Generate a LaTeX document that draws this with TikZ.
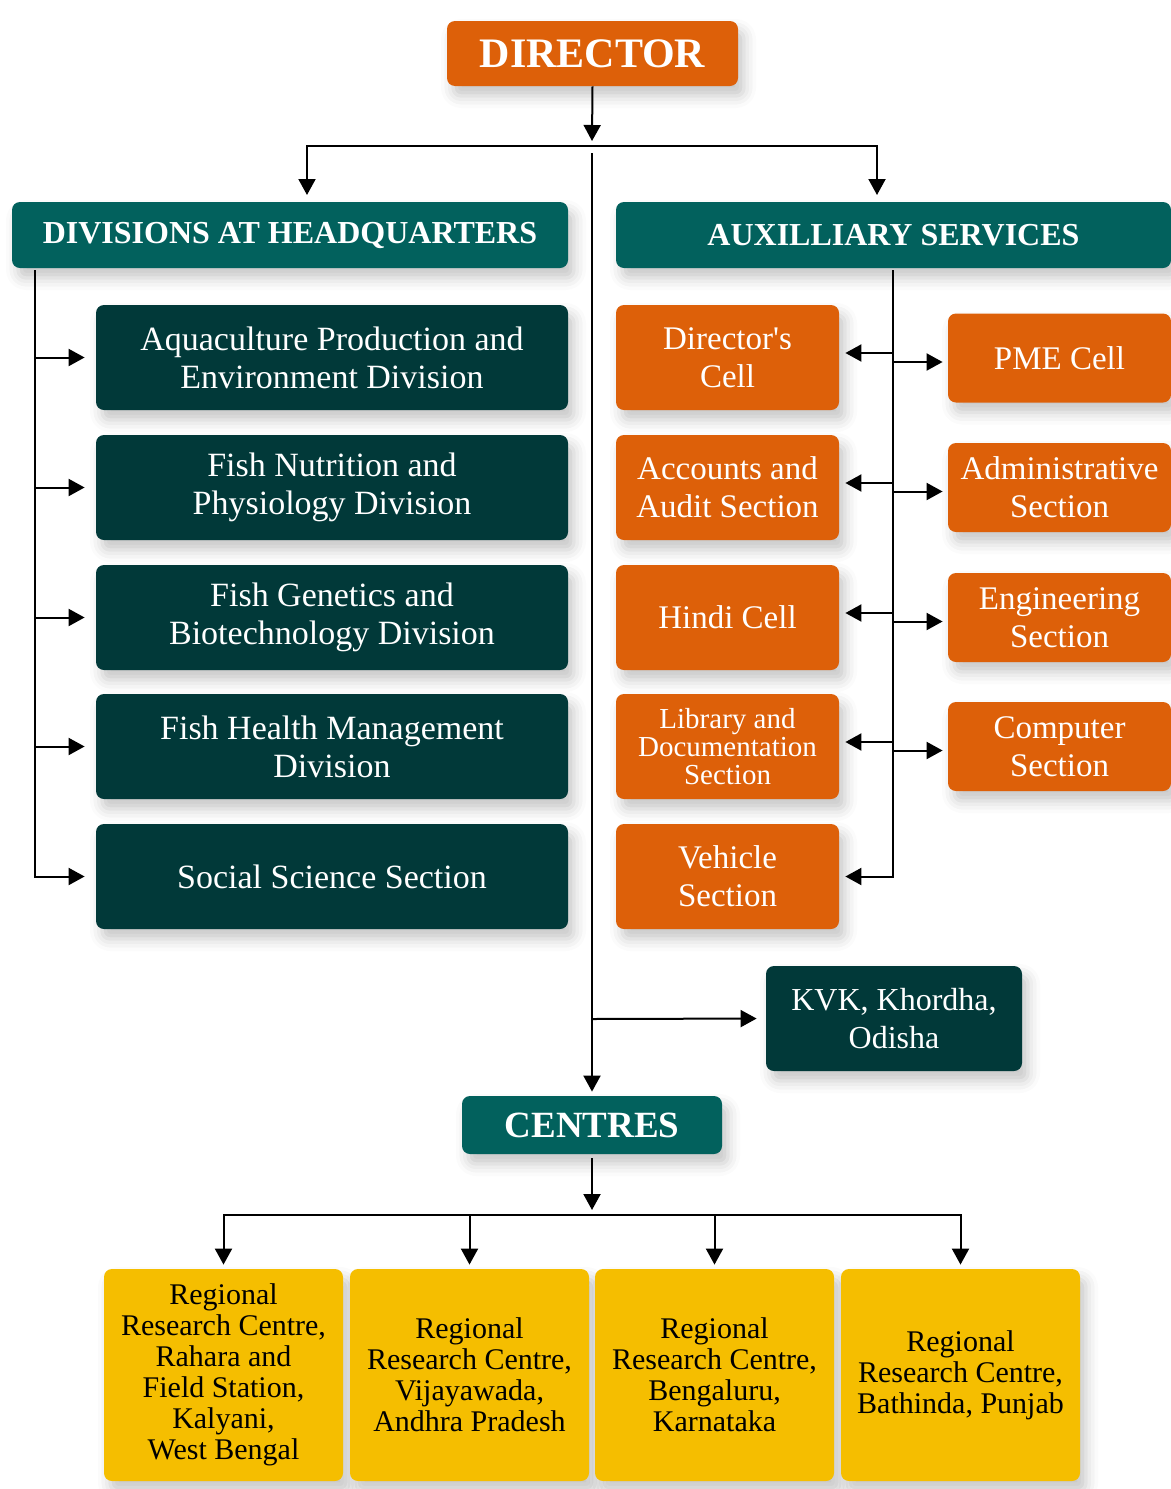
\documentclass[tikz,border=0pt]{standalone}
\usepackage{fontspec}
\setmainfont{Liberation Serif}[Ligatures=TeXOff]
\usetikzlibrary{arrows.meta,shadows.blur,calc}
\definecolor{dirorange}{RGB}{221,96,9}
\definecolor{headteal}{RGB}{2,97,93}
\definecolor{darkteal}{RGB}{1,57,57}
\definecolor{cyellow}{RGB}{245,190,0}
\tikzset{
  boxbase/.style={rounded corners=4pt, align=center, inner sep=0pt, text=white,
    blur shadow={shadow xshift=3pt, shadow yshift=-5pt, shadow blur radius=6pt, shadow opacity=22}},
  dirbox/.style={boxbase, fill=dirorange, minimum width=145.5pt, minimum height=32.5pt,
    font=\bfseries\fontsize{21}{24}\selectfont},
  headbox/.style={boxbase, fill=headteal, minimum width=278pt, minimum height=33pt,
    font=\bfseries\fontsize{16}{19}\selectfont},
  centbox/.style={boxbase, fill=headteal, minimum width=130pt, minimum height=29pt,
    font=\bfseries\fontsize{18.5}{21}\selectfont},
  divbox/.style={boxbase, fill=darkteal, minimum width=236pt, minimum height=52.5pt,
    font=\fontsize{17}{19}\selectfont},
  kvkbox/.style={boxbase, fill=darkteal, minimum width=128pt, minimum height=52.5pt,
    font=\fontsize{16}{19}\selectfont},
  orbox/.style={boxbase, fill=dirorange, minimum width=111.5pt, minimum height=52.5pt,
    font=\fontsize{16.5}{19}\selectfont},
  orboxr/.style={boxbase, fill=dirorange, minimum width=111.5pt, minimum height=44.5pt,
    font=\fontsize{16.5}{19}\selectfont},
  ybox/.style={boxbase, fill=cyellow, text=black, minimum width=119.5pt, minimum height=106pt,
    font=\fontsize{15}{15.5}\selectfont},
  arr/.style={draw=black, line width=1pt, -{Triangle[length=8pt,width=8.5pt]}},
  ln/.style={draw=black, line width=1pt},
}
\begin{document}
\begin{tikzpicture}[x=0.5pt,y=-0.5pt]
\useasboundingbox (0,0) rectangle (1171,1489);

% top
\node[dirbox] (dir) at (592.5,53.5) {DIRECTOR};
\node[headbox] (hq) at (290,235) {DIVISIONS AT HEADQUARTERS};
\node[headbox, minimum width=277.5pt] (aux) at (893.5,235) {AUXILLIARY SERVICES};

% divisions
\node[divbox] (d1) at (332,357.5) {Aquaculture Production and\\Environment Division};
\node[divbox] (d2) at (332,487.5) {Fish Nutrition and\\Physiology Division};
\node[divbox] (d3) at (332,617.5) {Fish Genetics and\\Biotechnology Division};
\node[divbox] (d4) at (332,746.5) {Fish Health Management\\Division};
\node[divbox] (d5) at (332,876.5) {Social Science Section};

% auxiliary left column
\node[orbox] (o1) at (727.5,357.5) {Director's\\Cell};
\node[orbox] (o2) at (727.5,487.5) {Accounts and\\Audit Section};
\node[orbox] (o3) at (727.5,617.5) {Hindi Cell};
\node[orbox, font=\fontsize{14.5}{14}\selectfont] (o4) at (727.5,746.5) {Library and\\Documentation\\Section};
\node[orbox] (o5) at (727.5,876.5) {Vehicle\\Section};

% auxiliary right column
\node[orboxr] (p1) at (1059.5,358) {PME Cell};
\node[orboxr] (p2) at (1059.5,487.5) {Administrative\\Section};
\node[orboxr] (p3) at (1059.5,617.5) {Engineering\\Section};
\node[orboxr] (p4) at (1059.5,746.5) {Computer\\Section};

% KVK and centres
\node[kvkbox] (kvk) at (894,1018.5) {KVK, Khordha,\\Odisha};
\node[centbox] (cen) at (592,1125) {CENTRES};

\node[ybox] (y1) at (223.5,1375) {Regional\\Research Centre,\\Rahara and\\Field Station,\\Kalyani,\\West Bengal};
\node[ybox] (y2) at (469.5,1375) {Regional\\Research Centre,\\Vijayawada,\\Andhra Pradesh};
\node[ybox] (y3) at (714.5,1375) {Regional\\Research Centre,\\Bengaluru,\\Karnataka};
\node[ybox] (y4) at (960.5,1375) {Regional\\Research Centre,\\Bathinda, Punjab};

% coordinates
\coordinate (j1) at (592,141);
\coordinate (bar) at (592,146);
\coordinate (hqin) at (307,195);
\coordinate (auxin) at (877,195);
\coordinate (spine) at (592,153);
\coordinate (kvkj) at (592,1019);
\coordinate (lspine) at (35,270);
\coordinate (rspine) at (893,270);
\coordinate (cenj) at (592,1210);
\coordinate (cbar) at (592,1215);

% connectors top
\draw[arr] (dir.south) -- (j1);
\draw[arr] (bar) -| (hqin);
\draw[arr] (bar) -| (auxin);
\draw[arr, shorten >=2pt] (spine) -- (cen.north);
\draw[arr, shorten >=4.5pt] (kvkj) -- (kvk.west);

% left spine
\foreach \n in {d1,d2,d3,d4,d5}
  \draw[arr, shorten >=5.5pt] (lspine) |- (\n.west);

% right spine
\foreach \n in {o1,o2,o3,o4}
  \draw[arr, shorten >=3pt] (rspine) |- ([yshift=2.25pt]\n.east);
\draw[arr, shorten >=3pt] (rspine) |- (o5.east);
\foreach \n in {p1,p2,p3,p4}
  \draw[arr, shorten >=2.5pt] (rspine) |- ([yshift=-2pt]\n.west);

% centres
\draw[arr, shorten <=2pt] (cen.south) -- (cenj);
\foreach \n in {y1,y2,y3,y4}
  \draw[arr, shorten >=2pt] (cbar) -| (\n.north);
\end{tikzpicture}
\end{document}
